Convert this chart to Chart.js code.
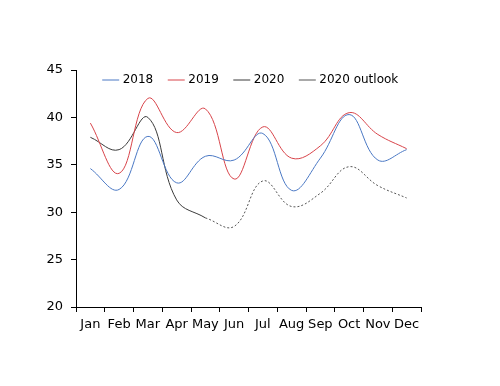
<!DOCTYPE html>
<html>
<head>
<meta charset="utf-8">
<script src="https://cdn.jsdelivr.net/npm/chart.js@4/dist/chart.umd.min.js"></script>
<style>
  html, body { margin: 0; padding: 0; background: #fff; }
  #wrap { width: 500px; height: 386px; }
</style>
</head>
<body>
<div id="wrap"><canvas id="chart"></canvas></div>
<script>
const months = ['Jan', 'Feb', 'Mar', 'Apr', 'May', 'Jun', 'Jul', 'Aug', 'Sep', 'Oct', 'Nov', 'Dec'];
const values2018 = [34.6, 32.4, 38.0, 33.1, 35.9, 35.5, 38.3, 32.3, 35.7, 40.3, 35.5, 36.6];
const values2019 = [39.4, 34.1, 42.0, 38.4, 40.9, 33.5, 39.0, 35.7, 37.0, 40.5, 38.2, 36.7];
const values2020 = [37.9, 36.6, 40.0, 31.3, 29.4, null, null, null, null, null, null, null];
const outlook2020 = [null, null, null, null, 29.4, 28.5, 33.3, 30.6, 32.0, 34.8, 32.8, 31.5];
const yMin = 20;
const yMax = 45;
const yStep = 5;

const fontFamily = '"DejaVu Sans", Verdana, sans-serif';
const legendTop = 57; // légende posée dans la zone du graphique

// ligne simple pour chaque série
function serie(label, data, color, dash) {
    return {
        label: label,
        data: data,
        borderColor: color,
        backgroundColor: color,
        borderWidth: 1,
        borderDash: dash || [],
        pointRadius: 0,
        pointHoverRadius: 0,
        tension: 0.4,
        fill: false,
        spanGaps: false
    };
}

// la légende ne prend pas de place, puis on la déplace dans la zone du graphique
const legendInside = {
    id: 'legendInside',
    beforeLayout(chart) {
        const lg = chart.legend;
        if (lg && !lg._inside) {
            const fit = lg.fit.bind(lg);
            lg.fit = function () {
                fit();
                this._realHeight = this.height;
                this.height = 0;
            };
            lg._inside = true;
        }
    },
    afterLayout(chart) {
        const lg = chart.legend;
        if (!lg) return;
        lg.left = 3;
        lg.right = 500;
        lg.width = 497;
        lg.top = legendTop;
        lg.height = lg._realHeight || 40;
        lg.bottom = lg.top + lg.height;
    }
};

new Chart(document.getElementById('chart'), {
    type: 'line',
    data: {
        labels: months,
        datasets: [
            serie('2018', values2018, '#4a78c4'),
            serie('2019', values2019, '#d8444a'),
            serie('2020', values2020, '#3a3a3a'),
            serie('2020 outlook', outlook2020, '#555555', [2, 2])
        ]
    },
    plugins: [legendInside],
    options: {
        responsive: true,
        maintainAspectRatio: false,
        animation: false,
        layout: { padding: { top: 70, left: 0, right: 79, bottom: 0 } },
        plugins: {
            legend: {
                position: 'top',
                align: 'center',
                labels: {
                    usePointStyle: true,
                    pointStyle: 'line',
                    boxHeight: 12,
                    padding: 17,
                    color: '#000',
                    font: { family: fontFamily, size: 12 }
                }
            },
            tooltip: { enabled: false }
        },
        scales: {
            x: {
                offset: true,
                grid: {
                    offset: true,
                    drawOnChartArea: false,
                    drawTicks: true,
                    tickLength: 5,
                    color: '#000'
                },
                border: { color: '#000', width: 1 },
                ticks: {
                    autoSkip: false,
                    maxRotation: 0,
                    minRotation: 0,
                    padding: 5,
                    color: '#000',
                    font: { family: fontFamily, size: 13 }
                },
                afterFit: function (scale) { scale.height = 79; }
            },
            y: {
                min: yMin,
                max: yMax,
                grid: {
                    drawOnChartArea: false,
                    drawTicks: true,
                    tickLength: 5,
                    color: '#000'
                },
                border: { color: '#000', width: 1 },
                ticks: {
                    stepSize: yStep,
                    padding: 8,
                    color: '#000',
                    font: { family: fontFamily, size: 13 }
                },
                afterFit: function (scale) { scale.width = 76; }
            }
        }
    }
});
</script>
</body>
</html>
